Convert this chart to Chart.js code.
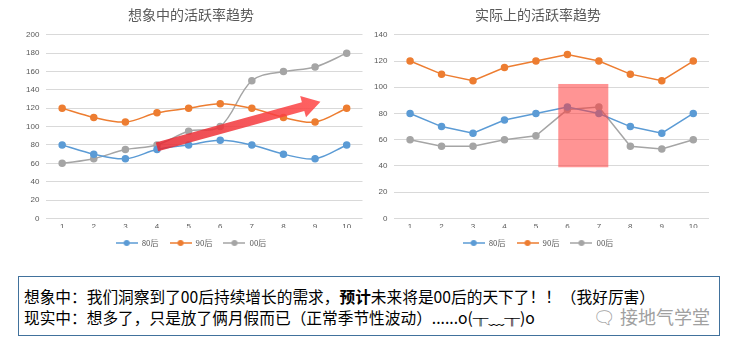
<!DOCTYPE html>
<html>
<head>
<meta charset="utf-8">
<script src="https://cdn.jsdelivr.net/npm/chart.js@4.4.1/dist/chart.umd.min.js"></script>
<style>
  body { margin: 0; background: #fff; font-family: "Noto Sans CJK SC", sans-serif; }
  .wrap { position: relative; width: 734px; height: 350px; overflow: hidden; }
  .box { position: absolute; width: 367px; height: 262px; top: 0; }
  #note { position: absolute; left: 18px; top: 276px; width: 702px; height: 60px;
          border: 1px solid #41719c; box-sizing: border-box; font-size: 15.7px; color: #000;
          padding: 9px 0 0 5px; line-height: 21px; }
  #note b { font-weight: bold; }
  #mark { position: absolute; right: 9px; top: 29px; color: #a0a0a0; font-size: 18px; }
</style>
</head>
<body>
<div class="wrap">
  <div class="box" style="left:0"><canvas id="leftChart" width="367" height="262"></canvas></div>
  <div class="box" style="left:367px"><canvas id="rightChart" width="367" height="262"></canvas></div>
  <div id="note">
    想象中：我们洞察到了00后持续增长的需求，<b>预计</b>未来将是00后的天下了！！（我好厉害）<br>
    现实中：想多了，只是放了俩月假而已（正常季节性波动）......o(╥﹏╥)o
    <span id="mark">&#x1F5E8; 接地气学堂</span>
  </div>
</div>
<script>
const months = ["1", "2", "3", "4", "5", "6", "7", "8", "9", "10"];
const seriesNames = ["80后", "90后", "00后"];
const colors = ["#5b9bd5", "#ed7d31", "#a5a5a5"];

const imag80 = [80, 70, 65, 75, 80, 85, 80, 70, 65, 80];
const imag90 = [120, 110, 105, 115, 120, 125, 120, 110, 105, 120];
const imag00 = [60, 65, 75, 80, 95, 100, 150, 160, 165, 180];

const real80 = [80, 70, 65, 75, 80, 85, 80, 70, 65, 80];
const real90 = [120, 110, 105, 115, 120, 125, 120, 110, 105, 120];
const real00 = [60, 55, 55, 60, 63, 83, 85, 55, 53, 60];

// annotation positions in axis units
const arrowFrom = [3, 78];   // category index, value
const arrowTo = [8.17, 127];
const boxX = [4.71, 6.3];
const boxY = [39, 102.5];

// legend marker: short line with a dot
function legendIcon(color) {
  const c = document.createElement("canvas");
  c.width = 22; c.height = 8;
  const g = c.getContext("2d");
  g.strokeStyle = color; g.lineWidth = 1.5;
  g.beginPath(); g.moveTo(0, 4); g.lineTo(22, 4); g.stroke();
  g.fillStyle = color;
  g.beginPath(); g.arc(11, 4, 3, 0, Math.PI * 2); g.fill();
  return c;
}
const icons = colors.map(legendIcon);

function makeSets(values, tension) {
  return values.map((v, i) => ({
    label: seriesNames[i],
    data: v,
    borderColor: colors[i],
    backgroundColor: colors[i],
    borderWidth: 1.5,
    pointRadius: 3,
    pointHoverRadius: 3,
    tension: tension
  }));
}

function makeOptions(title, max, pad) {
  return {
    responsive: false,
    animation: false,
    layout: { padding: pad },
    plugins: {
      title: { display: true, text: title, color: "#595959",
               font: { size: 14, family: "Noto Sans CJK SC", weight: "normal" },
               padding: { top: 2, bottom: 12 } },
      legend: {
        position: "bottom",
        labels: {
          usePointStyle: true,
          pointStyleWidth: 22,
          boxHeight: 8,
          padding: 11,
          color: "#595959",
          font: { size: 8, family: "Noto Sans CJK SC" },
          generateLabels: (chart) => chart.data.datasets.map((d, i) => ({
            text: d.label, pointStyle: icons[i], fillStyle: colors[i],
            strokeStyle: colors[i], lineWidth: 0, datasetIndex: i, fontColor: "#595959"
          }))
        }
      },
      tooltip: { enabled: false }
    },
    scales: {
      x: {
        offset: true,
        grid: { display: false },
        border: { display: false },
        ticks: { color: "#595959", font: { size: 8 }, padding: -4 }
      },
      y: {
        min: 0, max: max,
        ticks: { stepSize: 20, autoSkip: false, color: "#595959", font: { size: 8 }, padding: 7 },
        grid: { color: "#d9d9d9", drawTicks: false },
        border: { display: false }
      }
    }
  };
}

const arrowPlugin = {
  id: "arrow",
  afterDatasetsDraw(chart) {
    const { ctx, scales: { x, y } } = chart;
    const x0 = x.getPixelForValue(arrowFrom[0]), y0 = y.getPixelForValue(arrowFrom[1]);
    const x1 = x.getPixelForValue(arrowTo[0]), y1 = y.getPixelForValue(arrowTo[1]);
    const ang = Math.atan2(y1 - y0, x1 - x0);
    const len = Math.hypot(x1 - x0, y1 - y0);
    ctx.save();
    ctx.translate(x0, y0);
    ctx.rotate(ang);
    const grad = ctx.createLinearGradient(0, 0, len, 0);
    grad.addColorStop(0, "rgba(230,40,50,0.85)");
    grad.addColorStop(1, "rgba(255,70,70,0.85)");
    ctx.fillStyle = grad;
    const sh = 4.5, hw = 11, hl = 18;
    ctx.beginPath();
    ctx.moveTo(0, -sh);
    ctx.lineTo(len - hl, -sh);
    ctx.lineTo(len - hl, -hw);
    ctx.lineTo(len, 0);
    ctx.lineTo(len - hl, hw);
    ctx.lineTo(len - hl, sh);
    ctx.lineTo(0, sh);
    ctx.closePath();
    ctx.fill();
    ctx.restore();
  }
};

const boxPlugin = {
  id: "highlight",
  afterDatasetsDraw(chart) {
    const { ctx, scales: { x, y } } = chart;
    const l = x.getPixelForValue(boxX[0]), r = x.getPixelForValue(boxX[1]);
    const t = y.getPixelForValue(boxY[1]), b = y.getPixelForValue(boxY[0]);
    ctx.save();
    ctx.fillStyle = "rgba(255,60,60,0.55)";
    ctx.fillRect(l, t, r - l, b - t);
    ctx.restore();
  }
};

new Chart(document.getElementById("leftChart"), {
  type: "line",
  data: { labels: months, datasets: makeSets([imag80, imag90, imag00], 0.35) },
  options: makeOptions("想象中的活跃率趋势", 200, { left: 19, right: 4, top: 4, bottom: 5 }),
  plugins: [arrowPlugin]
});

new Chart(document.getElementById("rightChart"), {
  type: "line",
  data: { labels: months, datasets: makeSets([real80, real90, real00], 0) },
  options: makeOptions("实际上的活跃率趋势", 140, { left: 0, right: 25, top: 4, bottom: 5 }),
  plugins: [boxPlugin]
});
</script>
</body>
</html>
